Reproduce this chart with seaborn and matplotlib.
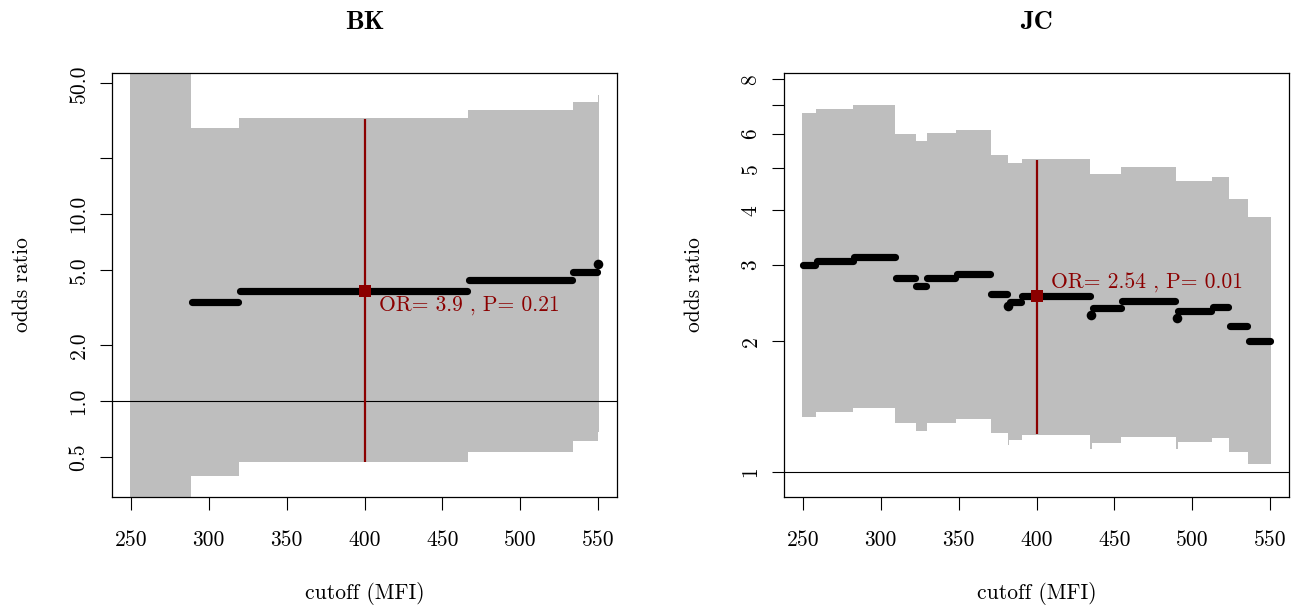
import numpy as np
import pandas as pd
import matplotlib
matplotlib.use("Agg")
import matplotlib.pyplot as plt
import seaborn as sns

# BK: step segments of the cutoff scan
bk_start = [250, 289, 320, 467, 534, 550]
bk_end = [288, 319, 466, 533, 549, 550]
bk_lower = [0.2, 0.397, 0.470, 0.536, 0.611, 0.685]
bk_upper = [80.0, 28.9, 32.5, 36.0, 39.6, 43.3]
bk_or = [np.nan, 3.38, 3.9, 4.42, 4.91, 5.42]
bk_sel = {"cutoff": 400, "or": 3.9, "p": 0.21, "lo": 0.474, "hi": 32.3, "text_y": 3.25}

# JC: step segments of the cutoff scan
jc_start = [250, 259, 283, 310, 323, 330, 349, 371, 382, 383, 391, 435, 436, 455, 490, 491, 513, 524, 536]
jc_end = [258, 282, 309, 322, 329, 348, 370, 381, 382, 390, 434, 435, 454, 489, 490, 512, 523, 535, 550]
jc_lower = [1.336, 1.371, 1.401, 1.298, 1.245, 1.298, 1.321, 1.231, 1.154, 1.185,
            1.216, 1.13, 1.168, 1.206, 1.127, 1.174, 1.199, 1.114, 1.043]
jc_upper = [6.68, 6.82, 6.97, 5.98, 5.77, 6.03, 6.12, 5.35, 5.14, 5.14,
            5.24, 4.84, 4.84, 5.03, 4.67, 4.67, 4.76, 4.24, 3.86]
jc_or = [3.00, 3.05, 3.13, 2.79, 2.68, 2.79, 2.86, 2.57, 2.41, 2.46,
         2.54, 2.30, 2.38, 2.47, 2.26, 2.34, 2.39, 2.17, 2.00]
jc_sel = {"cutoff": 400, "or": 2.54, "p": 0.01, "lo": 1.223, "hi": 5.21, "text_y": 2.72}

xticks = [250, 300, 350, 400, 450, 500, 550]
bk_yticks = [0.5, 1, 2, 5, 10, 20, 50]
bk_yticklabels = ["0.5", "1.0", "2.0", "5.0", "10.0", "", "50.0"]
jc_yticks = [1, 2, 3, 4, 5, 6, 7, 8]
jc_yticklabels = ["1", "2", "3", "4", "5", "6", "", "8"]

sns.set_theme(style="ticks")
plt.rcParams["font.family"] = ["cmr10", "DejaVu Serif"]
plt.rcParams["axes.formatter.use_mathtext"] = True
for key in ["text.color", "axes.labelcolor", "xtick.color", "ytick.color", "axes.edgecolor"]:
    plt.rcParams[key] = "black"
FS = 15.5
GRAY = "#BEBEBE"
RED = "#8B0000"


def draw_panel(ax, start, end, lower, upper, odds, sel, title, yticks, yticklabels, ylim):
    # 信頼区間の帯とオッズ比の段
    ax.set_yscale("log")
    start = np.array(start, dtype=float)
    end = np.array(end, dtype=float)
    edges = np.append(start - 0.5, end[-1] + 0.5)
    ax.fill_between(edges, np.append(lower, lower[-1]), np.append(upper, upper[-1]),
                    step="post", color=GRAY, lw=0, zorder=1)

    seg = pd.DataFrame({"start": start, "end": end, "or": odds}).dropna()
    runs = seg[seg["end"] > seg["start"]].reset_index(drop=True)
    long = pd.concat([
        pd.DataFrame({"seg": runs.index, "x": runs["start"], "or": runs["or"]}),
        pd.DataFrame({"seg": runs.index, "x": runs["end"], "or": runs["or"]}),
    ])
    sns.lineplot(data=long, x="x", y="or", units="seg", estimator=None, color="black",
                 lw=5.2, solid_capstyle="round", legend=False, ax=ax, zorder=3)
    single = seg[seg["end"] == seg["start"]]
    sns.scatterplot(x=single["start"], y=single["or"], s=48, color="black",
                    linewidth=0, ax=ax, zorder=3)

    ax.axhline(1, color="black", lw=0.8, zorder=2)
    ax.vlines(sel["cutoff"], sel["lo"], sel["hi"], color=RED, lw=1.6, zorder=4)
    sns.scatterplot(x=[sel["cutoff"]], y=[sel["or"]], marker="s", s=78, color=RED,
                    linewidth=0, ax=ax, zorder=5)
    ax.text(sel["cutoff"] + 9, sel["text_y"], f"OR= {sel['or']} , P= {sel['p']}",
            color=RED, fontsize=FS, ha="left", va="center", zorder=6)

    ax.set_xlim(238, 562)
    ax.set_ylim(*ylim)
    ax.set_xticks(xticks)
    ax.set_xticklabels([str(t) for t in xticks])
    ax.minorticks_off()
    ax.set_yticks(yticks)
    ax.set_yticklabels(yticklabels, rotation=90, va="center")
    ax.minorticks_off()
    ax.tick_params(axis="both", labelsize=FS, length=9, width=0.8,
                   color="black", labelcolor="black")
    ax.tick_params(axis="x", pad=15)
    ax.tick_params(axis="y", pad=8)
    for sp in ax.spines.values():
        sp.set_visible(True)
        sp.set_linewidth(0.9)
        sp.set_color("black")
    ax.set_xlabel("cutoff (MFI)", fontsize=FS, color="black")
    ax.set_ylabel("odds ratio", fontsize=FS, color="black")
    ax.xaxis.set_label_coords(0.5, -0.2)
    ax.yaxis.set_label_coords(-0.158, 0.5)
    ax.set_title(title, fontsize=19, family="cmb10", pad=32, color="black")


fig = plt.figure(figsize=(12.95, 6.1), dpi=100)
ax1 = fig.add_axes([0.0865, 0.1852, 0.39, 0.695])
ax2 = fig.add_axes([0.6054, 0.1852, 0.39, 0.695])

draw_panel(ax1, bk_start, bk_end, bk_lower, bk_upper, bk_or, bk_sel, "BK",
           bk_yticks, bk_yticklabels, (0.307, 56.8))
draw_panel(ax2, jc_start, jc_end, jc_lower, jc_upper, jc_or, jc_sel, "JC",
           jc_yticks, jc_yticklabels, (0.876, 8.27))

fig.savefig("out.png", dpi=100)
